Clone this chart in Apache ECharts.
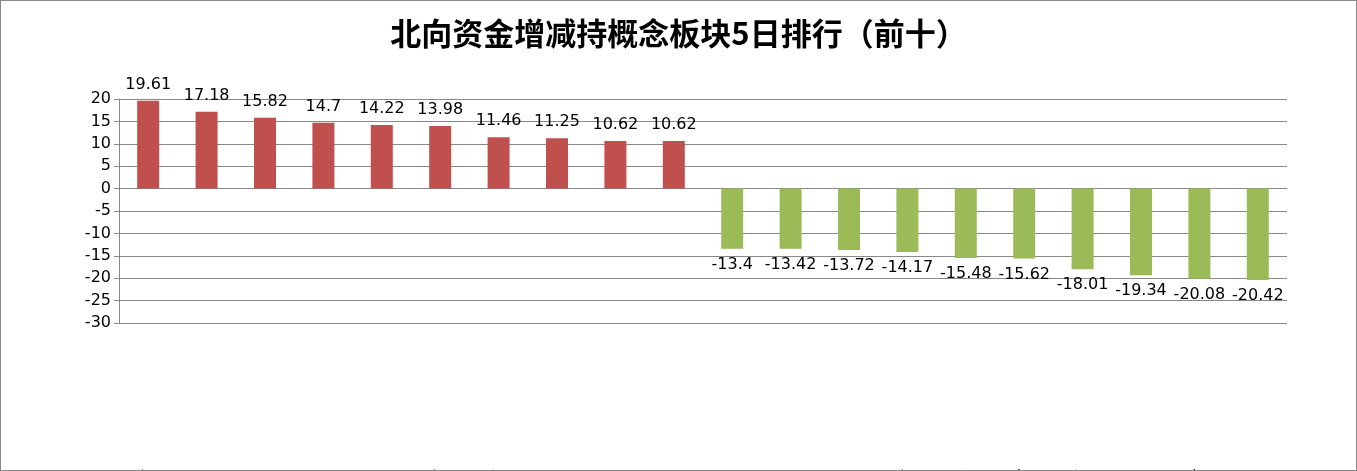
<!DOCTYPE html><html><head><meta charset="utf-8"><script src="https://cdn.jsdelivr.net/npm/echarts@6/dist/echarts.min.js"></script>
<style>html,body{margin:0;background:#fff}#c{width:1357px;height:471px;box-sizing:border-box;border:1px solid #888}</style></head><body><div id="c"></div><script>
const categories=['MSCI中国','HS300_','证金持股','融资融券','标准普尔','沪股通','富时罗素','上证180','茅指数','上证50_','电芯概念','储能','阿里概念','成渝特区','水产养殖','特高压','新材料','动力电池回收','新能源','风能'];
const values=[19.61,17.18,15.82,14.7,14.22,13.98,11.46,11.25,10.62,10.62,-13.4,-13.42,-13.72,-14.17,-15.48,-15.62,-18.01,-19.34,-20.08,-20.42];
const yTicks={min:-30,max:20,interval:5};
const ch=echarts.init(document.getElementById('c'));
ch.setOption({animation:false,
title:{text:'北向资金增减持概念板块5日排行（前十）',left:'center',top:12,textStyle:{fontSize:31,fontWeight:'bold',color:'#000',fontFamily:'Noto Sans CJK SC'}},
grid:{left:118,right:69,top:98,bottom:147,containLabel:false,outerBoundsMode:'none'},
xAxis:{type:'category',data:categories,axisTick:{show:false},axisLine:{onZero:true,lineStyle:{color:'#888'}},
axisLabel:{rotate:45,interval:0,fontSize:16,color:'#000',fontFamily:'Noto Sans CJK SC',margin:150}},
yAxis:{type:'value',...yTicks,axisLine:{show:true,lineStyle:{color:'#888'}},axisTick:{show:true,length:5,lineStyle:{color:'#888'}},
splitLine:{lineStyle:{color:'#888'}},axisLabel:{fontSize:16,color:'#000',fontFamily:'DejaVu Sans'}},
series:[{type:'bar',barWidth:22,data:values.map(v=>({value:v,itemStyle:{color:v>=0?'#c0504d':'#9bbb59'},label:{position:v>=0?'top':'bottom'}})),
label:{show:true,fontSize:16,color:'#000',fontFamily:'DejaVu Sans',distance:8}}]});
</script></body></html>
